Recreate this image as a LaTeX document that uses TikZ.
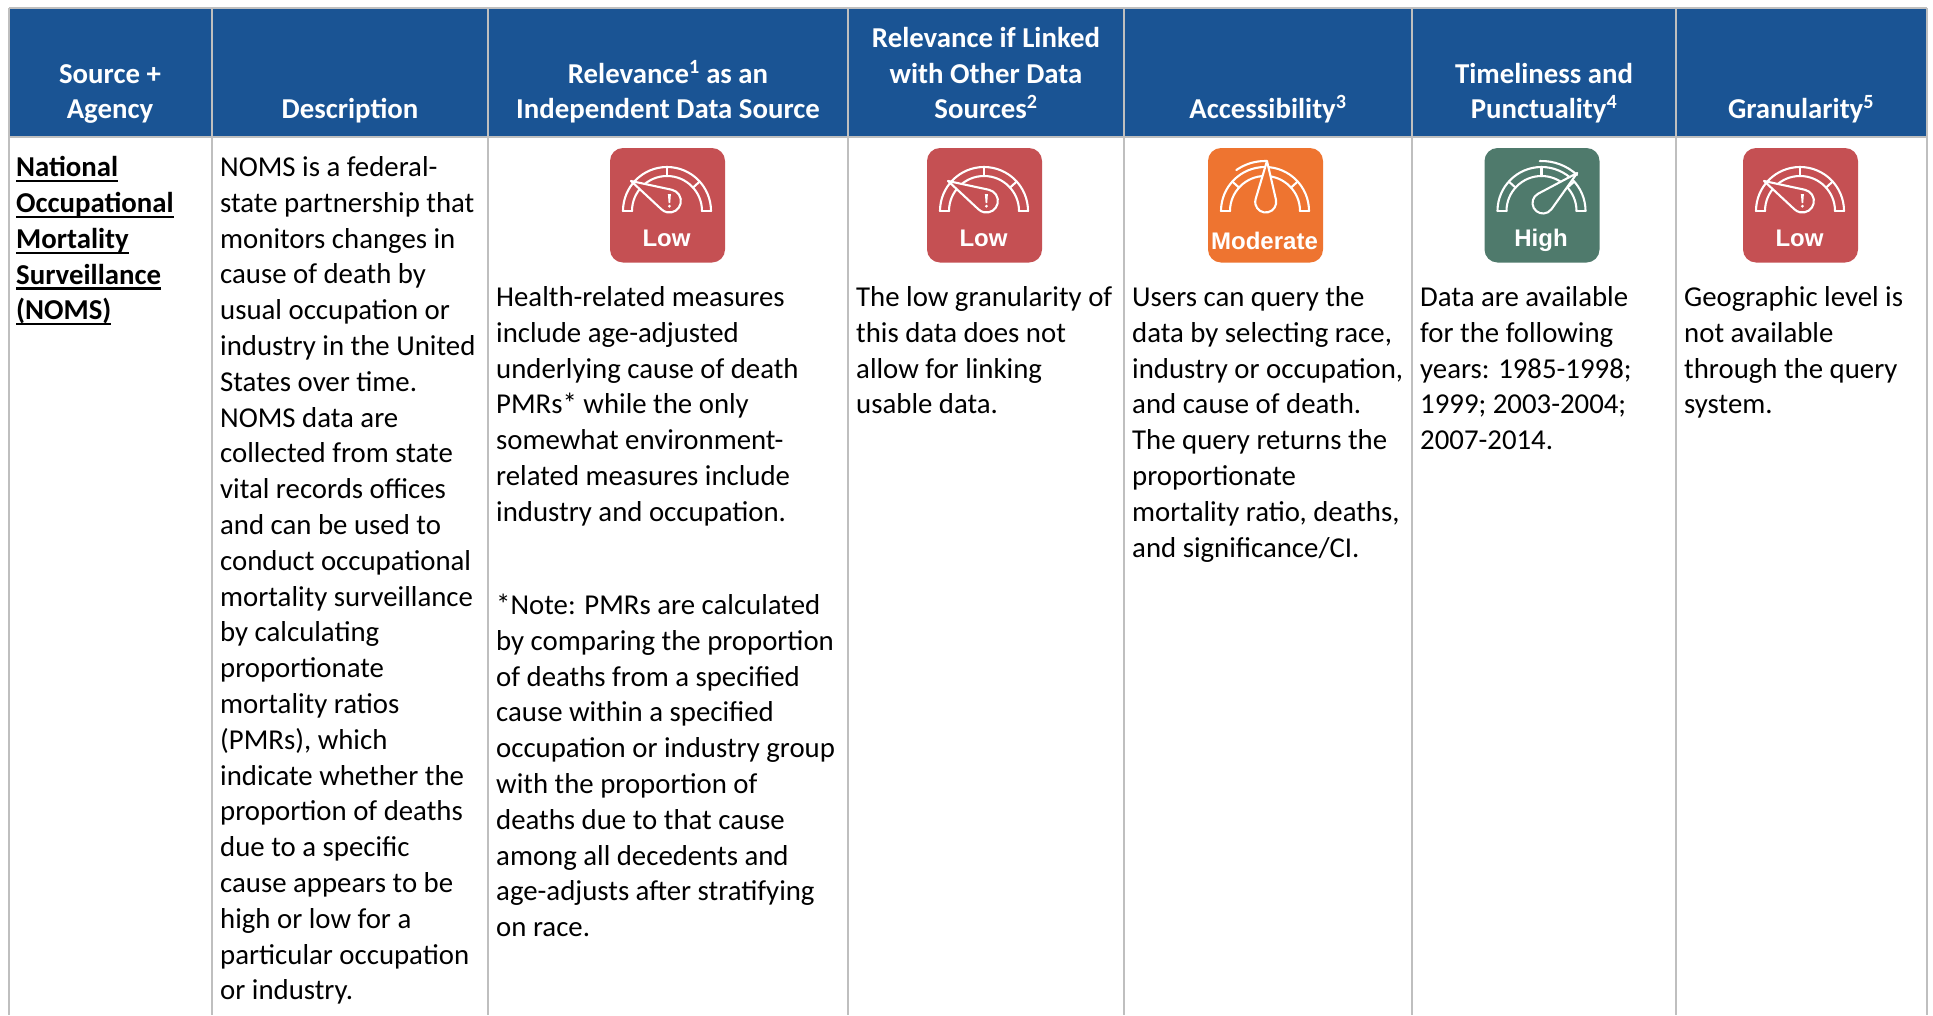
\documentclass[tikz,border=0pt]{standalone}
\usepackage{fontspec}
\usetikzlibrary{calc}
\setmainfont{Carlito}
\newfontfamily\iconfont{Liberation Sans}
\definecolor{hdr}{HTML}{1A5494}
\definecolor{grid}{HTML}{BFBFBF}
\definecolor{lowc}{HTML}{C55053}
\definecolor{modc}{HTML}{EE7430}
\definecolor{highc}{HTML}{4F7A6C}
\newcommand\ulw[1]{\leavevmode\setbox0\hbox{#1}\rlap{\rule[-5.5pt]{\wd0}{2.2pt}}\box0}
\tikzset{
  x=1pt,y=1pt,
  gridline/.style={draw=grid,line width=2pt},
  cell/.style={anchor=north west,inner sep=0pt,align=left,font=\fontsize{28.8}{35.8}\selectfont,text=black},
  head/.style={anchor=base,inner sep=0pt,align=center,text=white,font=\fontsize{28.8}{35.8}\selectfont\bfseries},
  iconlabel/.style={inner sep=0pt,text=white,font=\fontsize{24}{24}\selectfont\iconfont\bfseries},
  gaugeline/.style={draw=white,line width=2.1pt,line join=round,line cap=round},
}
% #1 icon left, #2 colour, #3 label, #4 label y
\newcommand\gaugeframe[4]{%
  \fill[#2,rounded corners=13pt] (#1,-148) rectangle ++(115,-114.5);
  \node[iconlabel] (label#1) at (#1+56.5,-#4) {#3};
}
% the scale with its three ticks, its centre at (0,0)
\newcommand\gaugescale{%
  \draw[gaugeline] (0:44) arc (0:180:44);
  \draw[gaugeline] (180:44) -- ++(9,0);
  \draw[gaugeline] (0:44) -- ++(-9,0);
  \draw[gaugeline] (0:35) arc (0:180:35);
  \foreach \a in {42,90,138} \draw[gaugeline] (\a:35) -- (\a:44);
}
\begin{document}
\begin{tikzpicture}
\useasboundingbox (0,0) rectangle (1933,-1015);
\fill[white] (0,0) rectangle (1933,-1015);
% header band
\fill[hdr] (9,-8) rectangle (1927,-137);
% grid
\draw[gridline] (9,-8) -- (1927,-8);
\draw[gridline] (9,-137) -- (1927,-137);
\foreach \x in {9,212,488,848,1124,1412,1676,1927}
  \draw[gridline] (\x,-8) -- (\x,-1015);
% header texts
\node[head] (h1a) at (110,-83) {Source +};
\node[head] (h1b) at (110,-118) {Agency};
\node[head] (h2) at (350,-118) {Description};
\node[head] (h3a) at (668,-83) {Relevance\textsuperscript{1} as an};
\node[head] (h3b) at (668,-118) {Independent Data Source};
\node[head] (h4a) at (986,-47) {Relevance if Linked};
\node[head] (h4b) at (986,-83) {with Other Data};
\node[head] (h4c) at (986,-118) {Sources\textsuperscript{2}};
\node[head] (h5) at (1268,-118) {Accessibility\textsuperscript{3}};
\node[head] (h6a) at (1544,-83) {Timeliness and};
\node[head] (h6b) at (1544,-118) {Punctuality\textsuperscript{4}};
\node[head] (h7) at (1801,-118) {Granularity\textsuperscript{5}};
% body cells
\node[cell,font=\fontsize{28.8}{35.8}\selectfont\bfseries] (c1) at (16,-156.3) {\ulw{National}\\\ulw{Occupational}\\\ulw{Mortality}\\\ulw{Surveillance}\\\ulw{(NOMS)}};
\node[cell] (c2) at (220,-156.3) {NOMS is a federal-\\state partnership that\\monitors changes in\\cause of death by\\usual occupation or\\industry in the United\\States over time.\\NOMS data are\\collected from state\\vital records offices\\and can be used to\\conduct occupational\\mortality surveillance\\by calculating\\proportionate\\mortality ratios\\(PMRs), which\\indicate whether the\\proportion of deaths\\due to a specific\\cause appears to be\\high or low for a\\particular occupation\\or industry.};
\node[cell] (c3) at (496,-286.3) {Health-related measures\\include age-adjusted\\underlying cause of death\\PMRs* while the only\\somewhat environment-\\related measures include\\industry and occupation.};
\node[cell] (c3n) at (496,-593.8) {*Note: PMRs are calculated\\by comparing the proportion\\of deaths from a specified\\cause within a specified\\occupation or industry group\\with the proportion of\\deaths due to that cause\\among all decedents and\\age-adjusts after stratifying\\on race.};
\node[cell] (c4) at (856,-286.3) {The low granularity of\\this data does not\\allow for linking\\usable data.};
\node[cell] (c5) at (1132,-286.3) {Users can query the\\data by selecting race,\\industry or occupation,\\and cause of death.\\The query returns the\\proportionate\\mortality ratio, deaths,\\and significance/CI.};
\node[cell] (c6) at (1420,-286.3) {Data are available\\for the following\\years: 1985-1998;\\1999; 2003-2004;\\2007-2014.};
\node[cell] (c7) at (1684,-286.3) {Geographic level is\\not available\\through the query\\system.};
% icons
\foreach \ix in {610,927,1743}{
  \gaugeframe{\ix}{lowc}{Low}{238}
  \begin{scope}[shift={(\ix+57,-211)}]
    \gaugescale
    \fill[lowc,draw=white,line width=2.1pt,line join=round] (-36,30) -- ($(2.4,10)+(77.9:11.5)$) arc (77.9:-132.9:11.5) -- cycle;
    \fill[white] (0.9,17) -- (3.9,17) -- (3.2,8) -- (1.6,8) -- cycle;
    \fill[white] (2.4,4.8) circle (1.6);
  \end{scope}
}
\gaugeframe{1208}{modc}{Moderate}{241}
\begin{scope}[shift={(1208+57,-211)}]
  \gaugescale
  \draw[gaugeline] (125:50) arc (125:88:50);
  \fill[modc,draw=white,line width=2.1pt,line join=round] (2,50) -- ($(0.7,9)+(12.8:10.5)$) arc (12.8:-196.8:10.5) -- cycle;
\end{scope}
\gaugeframe{1484.5}{highc}{High}{240}
\begin{scope}[shift={(1484.5+57,-211)}]
  \gaugescale
  \draw[gaugeline] (92:50) arc (92:47:52);
  \fill[highc,draw=white,line width=2.1pt,line join=round] (35.7,38) -- ($(1.5,8)+(118:10.5)$) arc (118:324.6:10.5) -- cycle;
\end{scope}
\end{tikzpicture}
\end{document}
